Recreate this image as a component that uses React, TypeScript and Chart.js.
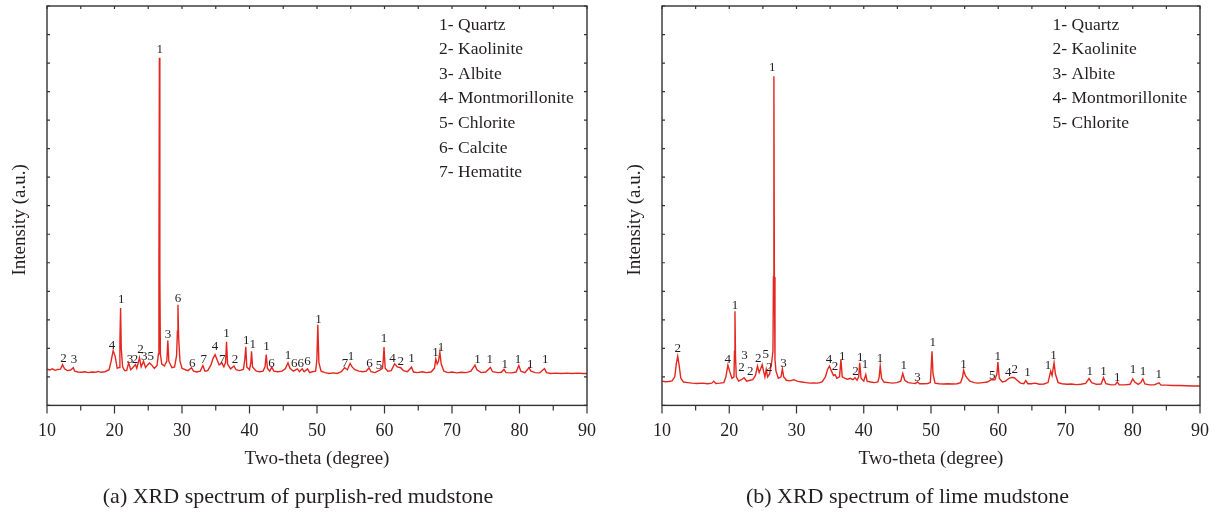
import React, { useEffect, useRef } from 'react';
import { Chart, registerables } from 'chart.js';

Chart.register(...registerables);

const FONT = '"Liberation Serif", "Times New Roman", serif';
const TEXT = '#231f20';
const RED = '#e4261e';

const X_RANGE = [10, 90];
const Y_RANGE = [0, 14];
const X_TITLE = 'Two-theta (degree)';
const Y_TITLE = 'Intensity (a.u.)';

// ---- (a) purplish-red mudstone: [2θ, intensity]
const SPECTRUM_A: [number, number][] = [
  [10.0, 1.27], [10.4, 1.24], [10.8, 1.28], [11.2, 1.23], [11.6, 1.26], [12.0, 1.27], [12.3, 1.43], [12.6, 1.28],
  [13.0, 1.22], [13.5, 1.24], [13.9, 1.32], [14.1, 1.2], [14.6, 1.17], [15.1, 1.16], [15.6, 1.18], [16.1, 1.15],
  [16.6, 1.17], [17.1, 1.16], [17.6, 1.19], [18.0, 1.16], [18.6, 1.18], [19.2, 1.25], [19.5, 1.55], [19.8, 1.92],
  [20.1, 1.72], [20.4, 1.3], [20.7, 1.33], [20.8, 2.2], [20.9, 3.41], [21.0, 2.0], [21.2, 1.35], [21.5, 1.22],
  [21.8, 1.22], [22.1, 1.49], [22.4, 1.25], [22.7, 1.32], [23.1, 1.43], [23.3, 1.3], [23.7, 1.67], [23.95, 1.35],
  [24.3, 1.55], [24.6, 1.33], [24.9, 1.42], [25.2, 1.49], [25.5, 1.42], [25.9, 1.3], [26.3, 1.4], [26.5, 1.8],
  [26.58, 4.5], [26.65, 12.19], [26.72, 4.5], [26.8, 1.8], [27.0, 1.45], [27.4, 1.38], [27.75, 1.55], [27.9, 2.27],
  [28.05, 1.55], [28.5, 1.32], [28.9, 1.35], [29.2, 1.75], [29.32, 2.6], [29.4, 3.53], [29.5, 2.4], [29.7, 1.55],
  [30.0, 1.3], [30.5, 1.25], [30.9, 1.22], [31.4, 1.32], [31.7, 1.2], [32.2, 1.17], [32.7, 1.2], [33.1, 1.4],
  [33.4, 1.2], [33.8, 1.22], [34.3, 1.42], [34.6, 1.65], [34.9, 1.78], [35.2, 1.6], [35.5, 1.42], [35.9, 1.49],
  [36.2, 1.35], [36.45, 1.5], [36.6, 2.23], [36.75, 1.45], [37.2, 1.28], [37.7, 1.38], [38.0, 1.25], [38.5, 1.22],
  [39.1, 1.26], [39.3, 1.6], [39.45, 2.05], [39.6, 1.35], [40.0, 1.25], [40.2, 1.5], [40.3, 1.9], [40.45, 1.35],
  [41.0, 1.2], [41.5, 1.18], [42.0, 1.2], [42.3, 1.35], [42.48, 1.78], [42.65, 1.3], [43.0, 1.2], [43.3, 1.34],
  [43.6, 1.2], [44.2, 1.18], [44.8, 1.2], [45.3, 1.28], [45.7, 1.49], [46.0, 1.3], [46.5, 1.2], [47.1, 1.28],
  [47.4, 1.18], [47.8, 1.28], [48.1, 1.18], [48.6, 1.28], [48.9, 1.15], [49.3, 1.18], [49.8, 1.2], [49.98, 1.6],
  [50.12, 2.83], [50.28, 1.5], [50.6, 1.2], [51.2, 1.15], [51.8, 1.12], [52.4, 1.14], [53.0, 1.12], [53.6, 1.18],
  [54.1, 1.32], [54.5, 1.25], [54.9, 1.47], [55.2, 1.35], [55.6, 1.25], [56.2, 1.2], [56.8, 1.18], [57.3, 1.2],
  [57.7, 1.32], [58.0, 1.18], [58.6, 1.15], [59.3, 1.24], [59.7, 1.3], [59.82, 1.6], [59.93, 2.05], [60.1, 1.3],
  [60.5, 1.2], [61.0, 1.22], [61.5, 1.46], [61.9, 1.35], [62.4, 1.32], [62.8, 1.22], [63.4, 1.18], [64.0, 1.34],
  [64.3, 1.17], [64.9, 1.15], [65.6, 1.18], [66.2, 1.15], [66.9, 1.17], [67.4, 1.3], [67.6, 1.63], [67.8, 1.45],
  [68.0, 1.55], [68.2, 1.86], [68.4, 1.45], [68.8, 1.2], [69.4, 1.15], [70.0, 1.17], [70.7, 1.14], [71.4, 1.16],
  [72.1, 1.15], [72.8, 1.2], [73.4, 1.41], [73.7, 1.25], [74.3, 1.15], [75.0, 1.17], [75.7, 1.33], [76.0, 1.18],
  [76.8, 1.15], [77.3, 1.16], [77.7, 1.26], [78.0, 1.15], [78.8, 1.14], [79.5, 1.17], [79.9, 1.4], [80.2, 1.2],
  [80.8, 1.15], [81.4, 1.32], [81.7, 1.2], [82.3, 1.15], [83.0, 1.14], [83.7, 1.29], [84.0, 1.15], [84.6, 1.12],
  [85.4, 1.13], [86.2, 1.12], [87.0, 1.13], [87.8, 1.12], [88.6, 1.13], [89.4, 1.12], [90.0, 1.12],
];

// peak labels: [2θ, intensity of label centre, phase number]
const PEAK_LABELS_A: [number, number, string][] = [
  [12.45, 1.64, '2'], [13.99, 1.59, '3'], [19.62, 2.11, '4'], [20.99, 3.71, '1'], [22.3, 1.61, '3'],
  [23.04, 1.61, '2'], [23.84, 1.96, '2'], [24.41, 1.7, '3'], [25.38, 1.7, '5'], [26.69, 12.47, '1'],
  [27.94, 2.48, '3'], [29.42, 3.73, '6'], [31.53, 1.47, '6'], [33.23, 1.61, '7'], [34.89, 2.05, '4'],
  [35.97, 1.61, '7'], [36.59, 2.52, '1'], [37.85, 1.59, '2'], [39.5, 2.27, '1'], [40.47, 2.13, '1'],
  [42.52, 2.05, '1'], [43.26, 1.47, '6'], [45.71, 1.76, '1'], [46.62, 1.47, '6'], [47.59, 1.47, '6'],
  [48.61, 1.53, '6'], [50.21, 3.01, '1'], [54.13, 1.47, '7'], [55.05, 1.72, '1'], [57.78, 1.47, '6'],
  [59.2, 1.4, '5'], [59.94, 2.33, '1'], [61.2, 1.64, '4'], [62.39, 1.55, '2'], [63.99, 1.64, '1'],
  [67.57, 1.86, '1'], [68.37, 2.02, '1'], [73.78, 1.61, '1'], [75.6, 1.59, '1'], [77.82, 1.43, '1'],
  [79.76, 1.61, '1'], [81.58, 1.43, '1'], [83.8, 1.59, '1'],
];

const LEGEND_A = ['1- Quartz', '2- Kaolinite', '3- Albite', '4- Montmorillonite', '5- Chlorite', '6- Calcite', '7- Hematite'];
const CAPTION_A = '(a) XRD spectrum of purplish-red mudstone';

// ---- (b) lime mudstone: [2θ, intensity]
const SPECTRUM_B: [number, number][] = [
  [10.0, 0.85], [10.5, 0.83], [11.0, 0.84], [11.5, 0.86], [11.9, 1.0], [12.15, 1.5], [12.34, 1.72], [12.55, 1.4],
  [12.8, 0.95], [13.2, 0.82], [13.8, 0.8], [14.5, 0.78], [15.2, 0.77], [16.0, 0.78], [16.8, 0.76], [17.4, 0.78],
  [17.7, 0.85], [18.0, 0.77], [18.6, 0.78], [19.2, 0.8], [19.5, 1.0], [19.8, 1.41], [20.05, 1.2], [20.4, 0.95],
  [20.7, 1.0], [20.78, 1.9], [20.85, 3.3], [20.93, 1.7], [21.05, 1.0], [21.4, 0.85], [21.8, 0.9], [22.2, 0.97],
  [22.6, 0.85], [23.1, 0.88], [23.5, 0.9], [23.9, 1.05], [24.2, 1.38], [24.45, 1.15], [24.7, 1.3], [24.9, 1.43],
  [25.1, 1.2], [25.3, 1.0], [25.5, 1.26], [25.7, 1.0], [26.0, 1.1], [26.3, 1.5], [26.5, 1.9], [26.57, 4.5],
  [26.64, 11.54], [26.71, 4.5], [26.8, 1.6], [26.95, 1.2], [27.3, 0.95], [27.7, 1.0], [27.9, 1.28], [28.1, 1.0],
  [28.5, 0.88], [29.0, 0.86], [29.6, 0.9], [30.2, 0.84], [30.8, 0.82], [31.4, 0.8], [32.0, 0.78], [32.6, 0.79],
  [33.2, 0.78], [33.8, 0.82], [34.3, 1.0], [34.6, 1.25], [34.9, 1.38], [35.2, 1.2], [35.5, 1.05], [35.75, 1.08],
  [36.0, 0.95], [36.4, 1.0], [36.6, 1.61], [36.8, 1.0], [37.2, 0.95], [37.6, 0.92], [38.0, 0.95], [38.4, 0.9],
  [38.7, 0.97], [39.0, 0.88], [39.25, 1.0], [39.4, 1.49], [39.6, 0.95], [40.0, 0.85], [40.3, 1.08], [40.5, 0.85],
  [41.0, 0.82], [41.6, 0.8], [42.1, 0.82], [42.3, 1.0], [42.45, 1.38], [42.65, 0.95], [43.0, 0.82], [43.6, 0.8],
  [44.3, 0.78], [44.9, 0.8], [45.5, 0.85], [45.8, 1.12], [46.1, 0.88], [46.6, 0.8], [47.2, 0.78], [47.7, 0.77],
  [48.0, 0.82], [48.3, 0.76], [48.9, 0.76], [49.5, 0.77], [49.9, 0.8], [50.0, 1.2], [50.15, 1.9], [50.3, 1.1],
  [50.6, 0.78], [51.2, 0.76], [51.8, 0.75], [52.5, 0.76], [53.2, 0.75], [53.9, 0.76], [54.4, 0.8], [54.7, 1.0],
  [54.85, 1.24], [55.1, 1.05], [55.4, 0.95], [55.8, 0.85], [56.4, 0.8], [57.0, 0.78], [57.7, 0.8], [58.4, 0.82],
  [59.0, 0.91], [59.5, 0.9], [59.8, 1.1], [59.95, 1.52], [60.15, 0.95], [60.6, 0.82], [61.1, 0.85], [61.6, 0.95],
  [62.0, 0.98], [62.4, 0.97], [62.8, 0.88], [63.3, 0.78], [63.8, 0.76], [64.1, 0.87], [64.4, 0.76], [64.9, 0.76],
  [65.5, 0.78], [66.1, 0.74], [66.8, 0.75], [67.4, 0.8], [67.8, 1.2], [68.0, 1.05], [68.3, 1.49], [68.5, 1.1],
  [68.9, 0.8], [69.5, 0.76], [70.2, 0.74], [70.9, 0.75], [71.6, 0.73], [72.3, 0.74], [73.0, 0.77], [73.5, 0.94],
  [73.9, 0.8], [74.6, 0.74], [75.3, 0.75], [75.65, 0.97], [76.0, 0.76], [76.8, 0.72], [77.4, 0.73], [77.7, 0.82],
  [78.0, 0.72], [78.8, 0.72], [79.6, 0.74], [80.0, 0.93], [80.3, 0.82], [80.8, 0.74], [81.2, 0.8], [81.5, 0.93],
  [81.8, 0.75], [82.5, 0.72], [83.2, 0.72], [83.9, 0.79], [84.2, 0.71], [85.0, 0.71], [86.0, 0.7], [87.0, 0.7],
  [88.0, 0.69], [89.0, 0.68], [90.0, 0.68],
];

const PEAK_LABELS_B: [number, number, string][] = [
  [12.34, 1.98, '2'], [19.79, 1.61, '4'], [20.84, 3.5, '1'], [22.25, 1.75, '3'], [21.84, 1.32, '2'],
  [23.13, 1.2, '2'], [24.3, 1.63, '2'], [25.42, 1.78, '5'], [25.94, 1.32, '2'], [26.41, 11.83, '1'],
  [28.05, 1.47, '3'], [34.85, 1.61, '4'], [35.73, 1.35, '2'], [36.79, 1.72, '1'], [38.78, 1.17, '2'],
  [39.48, 1.67, '1'], [40.19, 1.43, '1'], [42.41, 1.63, '1'], [45.93, 1.4, '1'], [47.98, 0.97, '3'],
  [50.27, 2.19, '1'], [54.84, 1.43, '1'], [59.12, 1.05, '5'], [59.94, 1.7, '1'], [61.47, 1.14, '4'],
  [62.46, 1.26, '2'], [64.34, 1.14, '1'], [67.39, 1.4, '1'], [68.21, 1.75, '1'], [73.6, 1.2, '1'],
  [75.65, 1.2, '1'], [77.7, 0.97, '1'], [80.05, 1.24, '1'], [81.51, 1.17, '1'], [83.86, 1.08, '1'],
];

const LEGEND_B = ['1- Quartz', '2- Kaolinite', '3- Albite', '4- Montmorillonite', '5- Chlorite'];
const CAPTION_B = '(b) XRD spectrum of lime mudstone';

const framePlugin = {
  id: 'xrdFrame',
  afterDatasetsDraw(chart: any, _args: any, opts: any) {
    const { ctx, chartArea } = chart;
    const { left, right, top, bottom } = chartArea;
    const x = chart.scales.x;
    const y = chart.scales.y;
    ctx.save();
    // peak labels
    ctx.fillStyle = TEXT;
    ctx.font = `13px ${FONT}`;
    ctx.textAlign = 'center';
    ctx.textBaseline = 'middle';
    for (const [tx, ty, s] of opts.peaks as [number, number, string][]) {
      ctx.fillText(s, x.getPixelForValue(tx), y.getPixelForValue(ty));
    }
    // legend of phases
    ctx.font = `17.5px ${FONT}`;
    ctx.textAlign = 'left';
    (opts.legend as string[]).forEach((s, i) => {
      ctx.fillText(s, left + 0.726 * (right - left), top + 19 + i * 24.6);
    });
    // frame
    ctx.strokeStyle = '#333333';
    ctx.lineWidth = 1.4;
    ctx.strokeRect(left, top, right - left, bottom - top);
    // ticks
    ctx.lineWidth = 1.2;
    ctx.beginPath();
    for (const t of x.ticks) {
      const px = x.getPixelForValue(t.value);
      const major = Math.abs(t.value % 10) < 1e-6;
      ctx.moveTo(px, bottom);
      ctx.lineTo(px, bottom + (major ? 8 : 5));
      ctx.moveTo(px, top);
      ctx.lineTo(px, top + 3);
    }
    for (const t of y.ticks) {
      const py = y.getPixelForValue(t.value);
      ctx.moveTo(left, py);
      ctx.lineTo(left + 3, py);
      ctx.moveTo(right, py);
      ctx.lineTo(right - 3, py);
    }
    ctx.stroke();
    ctx.restore();
  },
};

type Props = {
  spectrum: [number, number][];
  peaks: [number, number, string][];
  legend: string[];
  caption: string;
  left: number;
  width: number;
  padLeft: number;
  padRight: number;
  yTitlePad: number;
};

function XrdChart({ spectrum, peaks, legend, caption, left, width, padLeft, padRight, yTitlePad }: Props) {
  const ref = useRef<HTMLCanvasElement | null>(null);
  useEffect(() => {
    if (!ref.current) return;
    const chart = new Chart(ref.current, {
      type: 'line',
      data: {
        datasets: [
          {
            data: spectrum.map(([a, b]) => ({ x: a, y: b })),
            borderColor: RED,
            borderWidth: 1.4,
            pointRadius: 0,
            tension: 0,
            fill: false,
          },
        ],
      },
      options: {
        animation: false,
        responsive: false,
        maintainAspectRatio: false,
        layout: { padding: { top: 6, right: padRight, left: padLeft, bottom: 0 } },
        plugins: {
          legend: { display: false },
          tooltip: { enabled: false },
          title: {
            display: true,
            text: caption,
            position: 'bottom',
            font: { family: FONT, size: 22, weight: 'normal' },
            color: TEXT,
            padding: { top: 4, bottom: 4 },
          },
          xrdFrame: { peaks, legend },
        } as any,
        scales: {
          x: {
            type: 'linear',
            min: X_RANGE[0],
            max: X_RANGE[1],
            grid: { display: false, drawTicks: true, tickLength: 15 },
            border: { display: false },
            ticks: {
              stepSize: 5,
              autoSkip: false,
              maxRotation: 0,
              padding: 0,
              font: { family: FONT, size: 18 },
              color: TEXT,
              callback: (v: any) => (Number(v) % 10 === 0 ? String(v) : ''),
            },
            title: {
              display: true,
              text: X_TITLE,
              font: { family: FONT, size: 19 },
              color: TEXT,
              padding: { top: 0, bottom: 8.8 },
            },
            afterFit: (s: any) => {
              s.height = 74.2;
            },
          },
          y: {
            type: 'linear',
            min: Y_RANGE[0],
            max: Y_RANGE[1],
            grid: { display: false, drawTicks: false },
            border: { display: false },
            ticks: { display: false, stepSize: 1 },
            title: {
              display: true,
              text: Y_TITLE + '      ',
              font: { family: FONT, size: 19 },
              color: TEXT,
              padding: { top: yTitlePad, bottom: 0 },
            },
            afterFit: (s: any) => {
              s.width = 47 - padLeft;
            },
          },
        },
      } as any,
      plugins: [framePlugin],
    });
    return () => chart.destroy();
  }, [spectrum, peaks, legend, caption, padLeft, padRight, yTitlePad]);

  return (
    <canvas
      ref={ref}
      width={width}
      height={514}
      style={{ position: 'absolute', top: 0, left, width, height: 514, display: 'block' }}
    />
  );
}

export default function App() {
  return (
    <div style={{ position: 'absolute', top: 0, left: 0, width: 1217, height: 514, background: '#fff' }}>
      <XrdChart spectrum={SPECTRUM_A} peaks={PEAK_LABELS_A} legend={LEGEND_A} caption={CAPTION_A}
        left={0} width={600} padLeft={9} padRight={13} yTitlePad={0} />
      <XrdChart spectrum={SPECTRUM_B} peaks={PEAK_LABELS_B} legend={LEGEND_B} caption={CAPTION_B}
        left={615} width={602} padLeft={0} padRight={17} yTitlePad={9} />
    </div>
  );
}
